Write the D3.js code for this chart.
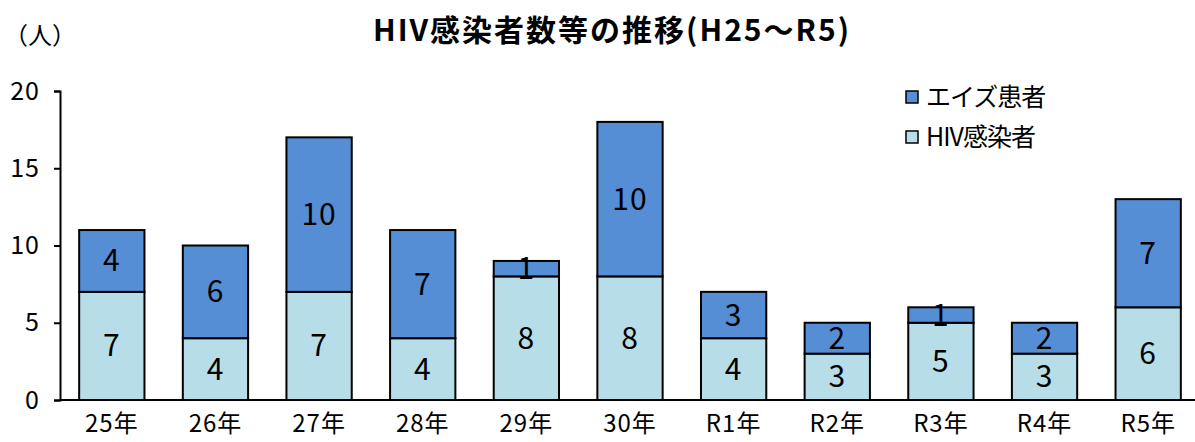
<!DOCTYPE html>
<html>
<head>
<meta charset="utf-8">
<script src="https://cdn.jsdelivr.net/npm/d3@7"></script>
<style>
  body { margin: 0; background: #fff; }
  text { font-family: 'Noto Sans CJK JP', 'Noto Sans', sans-serif; fill: #000; }
</style>
</head>
<body>
<div id="graph"></div>
<script>
const years = ['25年', '26年', '27年', '28年', '29年', '30年', 'R1年', 'R2年', 'R3年', 'R4年', 'R5年']
const hiv = [7, 4, 7, 4, 8, 8, 4, 3, 5, 3, 6]
const aids = [4, 6, 10, 7, 1, 10, 3, 2, 1, 2, 7]
const seriesNames = ['HIV感染者', 'エイズ患者']
const colors = ['#b7dee8', '#558ed5']
const yTicks = [0, 5, 10, 15, 20]

const cw = 1195, ch = 442
const margin = { top: 91, right: 0, bottom: 42, left: 60 }
const width = cw - margin.left - margin.right
const height = ch - margin.top - margin.bottom

const svg = d3.select('#graph').append('svg')
  .attr('width', cw)
  .attr('height', ch)

const g = svg.append('g')
  .attr('transform', `translate(${margin.left}, ${margin.top})`)

const rows = years.map((y, i) => ({ year: y, hiv: hiv[i], aids: aids[i] }))
const stacked = d3.stack().keys(['hiv', 'aids'])(rows)

const x = d3.scaleBand()
  .domain(years)
  .range([0, 1140])
  .paddingInner(0.37)
  .paddingOuter(0.185)

const y = d3.scaleLinear()
  .domain([0, 20])
  .range([height, 0])

// bars
stacked.forEach((layer, li) => {
  const lg = g.append('g')
  lg.selectAll('rect')
    .data(layer)
    .join('rect')
    .attr('x', d => x(d.data.year))
    .attr('y', d => y(d[1]))
    .attr('width', x.bandwidth())
    .attr('height', d => y(d[0]) - y(d[1]))
    .attr('fill', colors[li])
    .attr('stroke', '#000')
    .attr('stroke-width', 2)
  lg.selectAll('text')
    .data(layer)
    .join('text')
    .attr('x', d => x(d.data.year) + x.bandwidth() / 2)
    .attr('y', d => (y(d[0]) + y(d[1])) / 2)
    .attr('dy', '0.35em')
    .attr('text-anchor', 'middle')
    .style('font-size', '30px')
    .style('letter-spacing', '1px')
    .text(d => d[1] - d[0])
})

// y axis
const yAxis = g.append('g')
  .call(d3.axisLeft(y).tickValues(yTicks).tickSize(6).tickPadding(14))
yAxis.select('.domain').attr('stroke', '#000').attr('stroke-width', 2)
yAxis.selectAll('.tick line').attr('stroke', '#000').attr('stroke-width', 2)
yAxis.selectAll('.tick text')
  .style('font-size', '25px')
  .style('font-family', "'Noto Sans CJK JP', sans-serif")
  .style('letter-spacing', '1px')
  .attr('fill', '#000')

// x axis
const xAxis = g.append('g')
  .attr('transform', `translate(0, ${height})`)
  .call(d3.axisBottom(x).tickSize(0).tickPadding(15))
xAxis.select('.domain').attr('stroke', '#000').attr('stroke-width', 2)
  .attr('d', `M0,0H${cw - margin.left}`)
xAxis.selectAll('.tick text')
  .style('font-size', '24px')
  .style('font-family', "'Noto Sans CJK JP', sans-serif")
  .style('letter-spacing', '1px')
  .attr('fill', '#000')

// title and unit
svg.append('text')
  .attr('x', 612)
  .attr('y', 41)
  .attr('text-anchor', 'middle')
  .style('font-size', '30px')
  .style('font-weight', 'bold')
  .style('letter-spacing', '2px')
  .text('HIV感染者数等の推移(H25～R5)')

svg.append('text')
  .attr('x', 4)
  .attr('y', 44)
  .style('font-size', '24px')
  .text('（人）')

// legend
const legend = svg.append('g').attr('class', 'legend')
const legendItems = [1, 0]
legendItems.forEach((si, i) => {
  const ly = 97 + i * 40
  legend.append('rect')
    .attr('x', 906)
    .attr('y', ly - 6)
    .attr('width', 12)
    .attr('height', 12)
    .attr('fill', colors[si])
    .attr('stroke', '#000')
    .attr('stroke-width', 1.5)
  legend.append('text')
    .attr('x', 926)
    .attr('y', ly)
    .attr('dy', '0.36em')
    .style('font-size', '25px')
    .style('letter-spacing', '-1px')
    .text(seriesNames[si])
})
</script>
</body>
</html>
